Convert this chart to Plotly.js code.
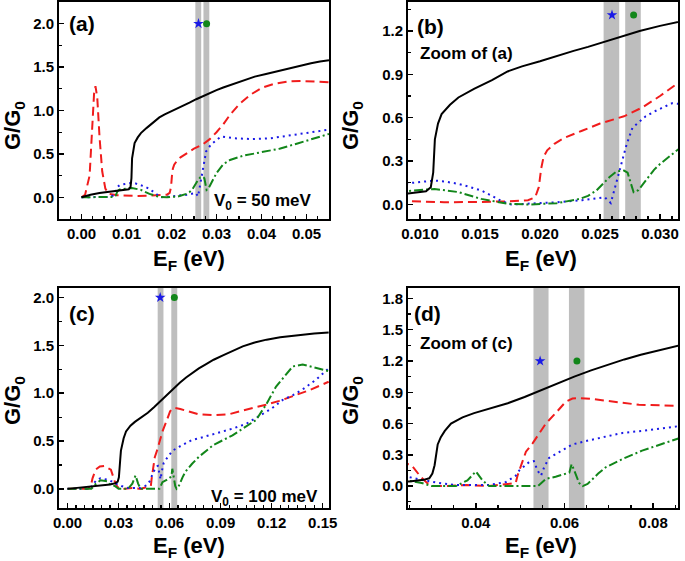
<!DOCTYPE html>
<html><head><meta charset="utf-8">
<script src="https://cdn.plot.ly/plotly-3.0.1.min.js"></script>
<style>html,body{margin:0;padding:0;background:#fff}#chart{width:685px;height:561px}</style>
</head><body><div id="chart"></div>
<script>
// ---------- V0 = 50 meV (panels a, b) ----------
const efBlack50 = [0,0.002,0.004,0.006,0.008,0.009,0.0105,0.0109,0.0111,0.01124,0.0115,0.0118,0.0125,0.0132,0.0145,0.016,0.0173,0.0185,0.020,0.0215,0.0228,0.024,0.0255,0.027,0.0283,0.030,0.0315,0.0335,0.036,0.0385,0.041,0.044,0.0465,0.0485,0.051,0.053,0.055];
const gBlack50  = [0,0.03,0.05,0.062,0.07,0.076,0.092,0.12,0.22,0.45,0.56,0.625,0.69,0.74,0.80,0.86,0.92,0.955,0.99,1.03,1.062,1.09,1.13,1.165,1.20,1.235,1.265,1.30,1.35,1.39,1.42,1.46,1.49,1.52,1.545,1.565,1.58];

const efRed50 = [0,0.0008,0.0018,0.0024,0.0028,0.0031,0.0035,0.004,0.0046,0.0053,0.006,0.008,0.010,0.012,0.015,0.0175,0.019,0.0196,0.0199,0.0201,0.0203,0.0206,0.0212,0.022,0.0235,0.025,0.027,0.0285,0.030,0.0315,0.033,0.035,0.0375,0.040,0.043,0.046,0.049,0.052,0.055];
const gRed50  = [0,0.03,0.25,0.85,1.2,1.28,1.15,0.7,0.3,0.1,0.04,0.025,0.018,0.016,0.018,0.022,0.03,0.05,0.12,0.25,0.33,0.375,0.42,0.46,0.51,0.56,0.61,0.67,0.75,0.84,0.95,1.07,1.18,1.26,1.31,1.335,1.34,1.335,1.325];

const efBlue50 = [0,0.004,0.006,0.007,0.0075,0.008,0.0085,0.009,0.010,0.0112,0.012,0.0132,0.014,0.0151,0.016,0.0167,0.0176,0.019,0.0214,0.0235,0.0245,0.0254,0.0259,0.0265,0.0272,0.0277,0.0288,0.0297,0.031,0.034,0.038,0.042,0.046,0.050,0.055];
const gBlue50  = [0,0.0,0.005,0.02,0.06,0.12,0.14,0.147,0.155,0.166,0.16,0.143,0.125,0.097,0.06,0.028,0.0,0.005,0.016,0.03,0.04,0.05,0.01,0.2,0.41,0.53,0.61,0.65,0.70,0.68,0.67,0.68,0.71,0.74,0.78];

const efGreen50 = [0,0.004,0.007,0.0076,0.008,0.0085,0.009,0.010,0.0112,0.012,0.0132,0.0151,0.0165,0.0173,0.019,0.0214,0.0233,0.024,0.0247,0.0253,0.0258,0.0264,0.027,0.0273,0.0276,0.0278,0.0282,0.0288,0.0295,0.030,0.0315,0.033,0.036,0.040,0.044,0.048,0.052,0.055];
const gGreen50  = [0,0.0,0.005,0.02,0.07,0.09,0.095,0.1,0.108,0.1,0.086,0.039,0.015,0.005,0.0,0.009,0.039,0.06,0.097,0.15,0.19,0.23,0.235,0.22,0.14,0.085,0.1,0.166,0.24,0.28,0.38,0.43,0.48,0.52,0.56,0.62,0.68,0.73];

const bands50 = [[0.0253,0.0266],[0.0271,0.0284]];
const starX50 = 0.026, dotX50 = 0.0278;

// ---------- V0 = 100 meV (panels c, d) ----------
const efBlack100 = [0,0.01,0.02,0.025,0.0282,0.0295,0.0302,0.0307,0.031,0.0314,0.0321,0.033,0.0344,0.037,0.0396,0.0435,0.0472,0.051,0.0547,0.0585,0.0622,0.066,0.0697,0.0735,0.0772,0.081,0.0859,0.092,0.097,0.103,0.11,0.117,0.125,0.1363,0.145,0.1535];
const gBlack100  = [0,0.015,0.03,0.045,0.06,0.075,0.12,0.2,0.31,0.4,0.47,0.53,0.60,0.66,0.70,0.75,0.795,0.855,0.92,0.985,1.05,1.11,1.165,1.215,1.26,1.30,1.35,1.40,1.44,1.49,1.53,1.56,1.585,1.61,1.625,1.635];

const efRed100 = [0,0.012,0.0138,0.0147,0.0165,0.019,0.0215,0.024,0.0255,0.0276,0.029,0.0305,0.033,0.038,0.043,0.0468,0.049,0.0494,0.0503,0.0513,0.0528,0.0543,0.0558,0.058,0.0603,0.0618,0.0633,0.0663,0.0708,0.0768,0.0859,0.095,0.101,0.108,0.1167,0.1245,0.1324,0.142,0.1535];
const gRed100  = [0,0.0,0.04,0.11,0.2,0.235,0.24,0.22,0.2,0.087,0.03,0.0,0.0,0.01,0.0,0.02,0.03,0.1,0.22,0.33,0.41,0.50,0.60,0.70,0.81,0.84,0.845,0.835,0.81,0.78,0.77,0.78,0.81,0.84,0.88,0.92,0.97,1.03,1.12];

const efBlue100 = [0,0.013,0.0155,0.0175,0.0194,0.022,0.0242,0.0278,0.0317,0.0355,0.043,0.0468,0.049,0.0498,0.052,0.0531,0.0539,0.0547,0.0554,0.0565,0.0588,0.0618,0.0656,0.0731,0.0775,0.0859,0.097,0.105,0.1127,0.12,0.1265,0.1325,0.1382,0.146,0.1535];
const gBlue100  = [0,0.0,0.06,0.1,0.11,0.1,0.094,0.06,0.03,0.01,0.01,0.04,0.1,0.15,0.23,0.24,0.15,0.10,0.18,0.27,0.33,0.40,0.44,0.51,0.53,0.57,0.63,0.68,0.76,0.84,0.93,0.98,1.04,1.14,1.26];

const efGreen100 = [0,0.014,0.0165,0.0194,0.0233,0.0242,0.0278,0.030,0.0355,0.0381,0.040,0.0415,0.043,0.054,0.0558,0.058,0.0611,0.0616,0.0622,0.0633,0.0641,0.0652,0.0676,0.0693,0.0731,0.0775,0.0859,0.097,0.1108,0.1167,0.1226,0.1324,0.1382,0.1461,0.1535];
const gGreen100  = [0,0.0,0.05,0.09,0.08,0.055,0.03,0.0,0.0,0.055,0.14,0.055,0.0,0.0,0.07,0.09,0.13,0.21,0.15,0.03,0.0,0.02,0.12,0.18,0.26,0.34,0.46,0.56,0.72,0.88,1.07,1.28,1.30,1.26,1.23];

const bands100 = [[0.053,0.0564],[0.061,0.0645]];
const starX100 = 0.0545, dotX100 = 0.0628;

const panelLabels = ['(a)','(b)','(c)','(d)'];
const markerY = [2.0, 1.31, 2.0, 1.2];

// ---------- styling ----------
const W = 685, H = 561;
const FONT = 'Liberation Sans, Arial, sans-serif';
const cBlack = '#000000', cRed = '#f01c1c', cBlue = '#1a1ae6', cGreen = '#12861a';
const band = 'rgb(190,190,190)';
const px = x => x / W, py = y => 1 - y / H;

function series(xs, ys, color, dash, xa, ya) {
  return {x: xs, y: ys, type: 'scatter', mode: 'lines', xaxis: xa, yaxis: ya,
          line: {color: color, width: 2, dash: dash}, hoverinfo: 'skip', showlegend: false};
}
function panelTraces(d, xa, ya, my) {
  return [
    series(d.rx, d.ry, cRed, '9px,5px', xa, ya),
    series(d.bx, d.by, cBlue, '2px,4px', xa, ya),
    series(d.gx, d.gy, cGreen, '9px,3px,2px,3px', xa, ya),
    series(d.kx, d.ky, cBlack, 'solid', xa, ya),
    {x: [d.star], y: [my], type: 'scatter', mode: 'markers', xaxis: xa, yaxis: ya, showlegend: false,
     marker: {symbol: 'star', size: 8, color: cBlue}},
    {x: [d.dot], y: [my], type: 'scatter', mode: 'markers', xaxis: xa, yaxis: ya, showlegend: false,
     marker: {symbol: 'circle', size: 7, color: cGreen}}
  ];
}
const d50 = {kx: efBlack50, ky: gBlack50, rx: efRed50, ry: gRed50, bx: efBlue50, by: gBlue50, gx: efGreen50, gy: gGreen50, star: starX50, dot: dotX50};
const d100 = {kx: efBlack100, ky: gBlack100, rx: efRed100, ry: gRed100, bx: efBlue100, by: gBlue100, gx: efGreen100, gy: gGreen100, star: starX100, dot: dotX100};

const data = [].concat(
  panelTraces(d50, 'x', 'y', markerY[0]),
  panelTraces(d50, 'x2', 'y2', markerY[1]),
  panelTraces(d100, 'x3', 'y3', markerY[2]),
  panelTraces(d100, 'x4', 'y4', markerY[3])
);

function ax(extra) {
  return Object.assign({
    showline: true, linecolor: '#000', linewidth: 2, mirror: true,
    ticks: 'inside', ticklen: 5, tickwidth: 1.5, tickcolor: '#000',
    showgrid: false, zeroline: false, fixedrange: true,
    tickfont: {family: FONT, size: 15, weight: 'bold', color: '#000'}
  }, extra);
}
function minor(dt) { return {ticks: 'inside', ticklen: 3, tickwidth: 1.2, tickcolor: '#000', dtick: dt, showgrid: false}; }

const domL = [59/W, 329/W], domR = [408/W, 678/W];
const domT = [1 - 219/H, 1 - 2/H], domB = [1 - 508/H, 1 - 288/H];

const shapes = [];
function addBands(list, xref, yref) {
  list.forEach(b => shapes.push({type: 'rect', xref: xref, yref: yref + ' domain', x0: b[0], x1: b[1], y0: 0, y1: 1,
    fillcolor: band, line: {width: 0}, layer: 'below'}));
}
addBands(bands50, 'x', 'y'); addBands(bands50, 'x2', 'y2');
addBands(bands100, 'x3', 'y3'); addBands(bands100, 'x4', 'y4');

function ann(text, x, y, size, opts) {
  return Object.assign({text: text, xref: 'paper', yref: 'paper', x: px(x), y: py(y), showarrow: false,
    xanchor: 'left', yanchor: 'middle', font: {family: FONT, size: size, weight: 'bold', color: '#000'}}, opts || {});
}
const annotations = [
  ann(panelLabels[0], 67, 24, 21), ann(panelLabels[1], 415, 26, 21),
  ann(panelLabels[2], 67, 313, 21), ann(panelLabels[3], 412, 313, 21),
  ann('Zoom of (a)', 418, 54, 17), ann('Zoom of (c)', 418, 343, 17),
  ann('V<sub>0</sub> = 50 meV', 212, 202, 17), ann('V<sub>0</sub> = 100 meV', 209, 498, 17),
  ann('E<sub>F</sub> (eV)', 189, 260, 22, {xanchor: 'center'}),
  ann('E<sub>F</sub> (eV)', 541, 260, 22, {xanchor: 'center'}),
  ann('E<sub>F</sub> (eV)', 189, 547, 22, {xanchor: 'center'}),
  ann('E<sub>F</sub> (eV)', 541, 547, 22, {xanchor: 'center'}),
  ann('G/G<sub>0</sub>', 14, 126, 22, {xanchor: 'center', textangle: -90}),
  ann('G/G<sub>0</sub>', 352, 126, 22, {xanchor: 'center', textangle: -90}),
  ann('G/G<sub>0</sub>', 14, 401, 22, {xanchor: 'center', textangle: -90}),
  ann('G/G<sub>0</sub>', 352, 401, 22, {xanchor: 'center', textangle: -90})
];

const layout = {
  width: W, height: H, margin: {l: 0, r: 0, t: 0, b: 0},
  paper_bgcolor: '#fff', plot_bgcolor: '#fff', showlegend: false,
  xaxis:  ax({domain: domL, anchor: 'y',  range: [-0.005, 0.055], tick0: 0, dtick: 0.01, tickformat: '.2f', minor: minor(0.0025)}),
  yaxis:  ax({domain: domT, anchor: 'x',  range: [-0.25, 2.25], tick0: 0, dtick: 0.5, tickformat: '.1f', minor: minor(0.25)}),
  xaxis2: ax({domain: domR, anchor: 'y2', range: [0.009, 0.0315], tick0: 0, dtick: 0.005, tickformat: '.3f', minor: minor(0.001)}),
  yaxis2: ax({domain: domT, anchor: 'x2', range: [-0.1, 1.4], tick0: 0, dtick: 0.3, tickformat: '.1f', minor: minor(0.15)}),
  xaxis3: ax({domain: domL, anchor: 'y3', range: [-0.005, 0.1537], tick0: 0, dtick: 0.03, tickformat: '.2f', minor: minor(0.005)}),
  yaxis3: ax({domain: domB, anchor: 'x3', range: [-0.2, 2.1], tick0: 0, dtick: 0.5, tickformat: '.1f', minor: minor(0.25)}),
  xaxis4: ax({domain: domR, anchor: 'y4', range: [0.0247, 0.0856], tick0: 0, dtick: 0.02, tickformat: '.2f', minor: minor(0.005)}),
  yaxis4: ax({domain: domB, anchor: 'x4', range: [-0.21, 1.9], tick0: 0, dtick: 0.3, tickformat: '.1f', minor: minor(0.15)}),
  shapes: shapes, annotations: annotations
};

Plotly.newPlot('chart', data, layout, {displayModeBar: false, staticPlot: true});
</script></body></html>
